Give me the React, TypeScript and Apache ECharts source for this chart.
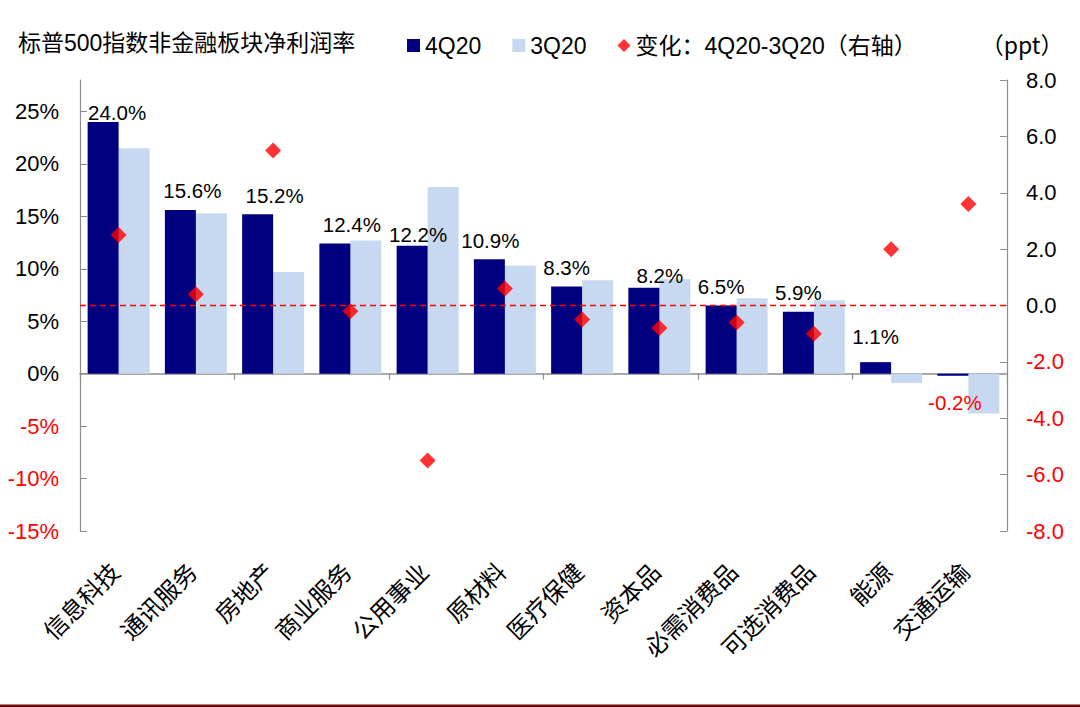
import React, { useEffect, useRef } from "react";
import * as echarts from "echarts";

const categories = ["信息科技", "通讯服务", "房地产", "商业服务", "公用事业", "原材料", "医疗保健", "资本品", "必需消费品", "可选消费品", "能源", "交通运输"];
const q4Values = [24.0, 15.6, 15.2, 12.4, 12.2, 10.9, 8.3, 8.2, 6.5, 5.9, 1.1, -0.2];
const q3Values = [21.5, 15.3, 9.7, 12.7, 17.8, 10.3, 8.9, 9.0, 7.2, 7.0, -0.9, -3.8];
const changeValues = [2.5, 0.4, 5.5, -0.2, -5.5, 0.6, -0.5, -0.8, -0.6, -1.0, 2.0, 3.6];
const leftTicks = [-15, -10, -5, 0, 5, 10, 15, 20, 25];
const rightTicks = [-8, -6, -4, -2, 0, 2, 4, 6, 8];

// label nudges (style only), [dx, dy] in px
const labelNudges = [[14, 10], [12, 0], [17, 0], [17, 0], [6, 8], [1, 0], [0, 0], [16, 7], [0, 0], [0, 0], [0, -6], [2, 0]];

const TITLE = "标普500指数非金融板块净利润率";
const S4 = "4Q20";
const S3 = "3Q20";
const SC = "变化：4Q20-3Q20（右轴）";

const LATIN = "Liberation Sans, Arial, Noto Sans CJK SC";
const CJK = "Noto Sans CJK SC";
const RED = "#FF0000";
const AXIS = "#8c8c8c";

export default function App() {
  const ref = useRef<HTMLDivElement>(null);
  useEffect(() => {
    if (!ref.current) return;
    const chart = echarts.init(ref.current, undefined, { renderer: "svg" });
    const q4Data = q4Values.map((v, i) => ({
      value: v,
      label: {
        position: v < 0 ? "bottom" : "top",
        distance: v < 0 ? 16 : 9,
        color: v < 0 ? RED : "#000",
        offset: labelNudges[i],
      },
    }));
    chart.setOption({
      animation: false,
      backgroundColor: "#fff",
      title: {
        text: TITLE,
        left: 18,
        top: 31,
        padding: 0,
        textStyle: { fontSize: 23, fontWeight: "normal", color: "#000", fontFamily: LATIN },
      },
      legend: {
        left: 402,
        top: 29,
        itemWidth: 13,
        itemHeight: 13,
        itemGap: 31,
        textStyle: { fontSize: 23, color: "#000", fontFamily: LATIN },
        data: [
          { name: S4, icon: "rect" },
          { name: S3, icon: "rect" },
          { name: SC, icon: "diamond" },
        ],
      },
      grid: { left: 80, right: 73, top: 80, bottom: 176, containLabel: false },
      xAxis: [
        {
          type: "category",
          data: categories,
          position: "bottom",
          axisLine: { show: false, onZero: false },
          axisTick: { show: false },
          axisLabel: {
            interval: 0,
            rotate: 45,
            margin: 31,
            padding: [0, 6, 0, 0],
            fontSize: 24,
            color: "#000",
            fontFamily: CJK,
          },
        },
        {
          type: "category",
          data: categories,
          position: "bottom",
          axisLine: { show: true, onZero: true, onZeroAxisIndex: 0, lineStyle: { color: AXIS, width: 1.5 } },
          axisTick: { show: true, length: 6, lineStyle: { color: AXIS, width: 1.2 } },
          axisLabel: { show: false },
        },
      ],
      yAxis: [
        {
          type: "value",
          min: -15,
          max: 28,
          splitLine: { show: false },
          axisLine: { show: true, lineStyle: { color: AXIS, width: 1.2 } },
          axisTick: { show: true, inside: true, length: 7, customValues: leftTicks, lineStyle: { color: AXIS } },
          axisLabel: {
            customValues: leftTicks,
            margin: 21,
            fontSize: 22,
            fontFamily: LATIN,
            formatter: (v: number) => `${v}%`,
            color: (v: any) => (Number(v) < 0 ? RED : "#000"),
          },
        },
        {
          type: "value",
          min: -8,
          max: 8,
          interval: 2,
          position: "right",
          name: "（ppt）",
          nameLocation: "end",
          nameGap: 25,
          nameTextStyle: { fontSize: 23, color: "#000", fontFamily: CJK, padding: [0, 0, 0, 30] },
          splitLine: { show: false },
          axisLine: { show: true, lineStyle: { color: AXIS, width: 1.2 } },
          axisTick: { show: true, inside: true, length: 7, customValues: rightTicks, lineStyle: { color: AXIS } },
          axisLabel: {
            customValues: rightTicks,
            margin: 19,
            fontSize: 22,
            fontFamily: LATIN,
            formatter: (v: number) => Number(v).toFixed(1),
            color: (v: any) => (Number(v) < 0 ? RED : "#000"),
          },
        },
      ],
      series: [
        {
          name: S4,
          type: "bar",
          xAxisIndex: 0,
          yAxisIndex: 0,
          barWidth: 31,
          barGap: "0%",
          itemStyle: { color: "#000080" },
          label: {
            show: true,
            fontSize: 20.5,
            fontFamily: LATIN,
            formatter: (p: any) => `${Number(p.value).toFixed(1)}%`,
          },
          data: q4Data,
          z: 2,
        },
        {
          name: S3,
          type: "bar",
          xAxisIndex: 0,
          yAxisIndex: 0,
          barWidth: 31,
          barGap: "0%",
          itemStyle: { color: "#C6D9F1" },
          data: q3Values,
          z: 1,
        },
        {
          name: SC,
          type: "scatter",
          xAxisIndex: 0,
          yAxisIndex: 1,
          symbol: "diamond",
          symbolSize: 16,
          itemStyle: { color: RED },
          data: changeValues,
          z: 5,
          markLine: {
            silent: true,
            symbol: ["none", "none"],
            label: { show: false },
            lineStyle: { color: RED, type: [6, 4], width: 1.3 },
            data: [{ yAxis: 0 }],
          },
        },
      ],
      graphic: [
        {
          type: "rect",
          left: 0,
          top: 704.5,
          shape: { x: 0, y: 0, width: 1080, height: 2.5 },
          style: { fill: "#6a0a0a" },
          silent: true,
        },
      ],
    });
    return () => chart.dispose();
  }, []);
  return <div ref={ref} style={{ position: "fixed", left: 0, top: 0, width: 1080, height: 707 }} />;
}
